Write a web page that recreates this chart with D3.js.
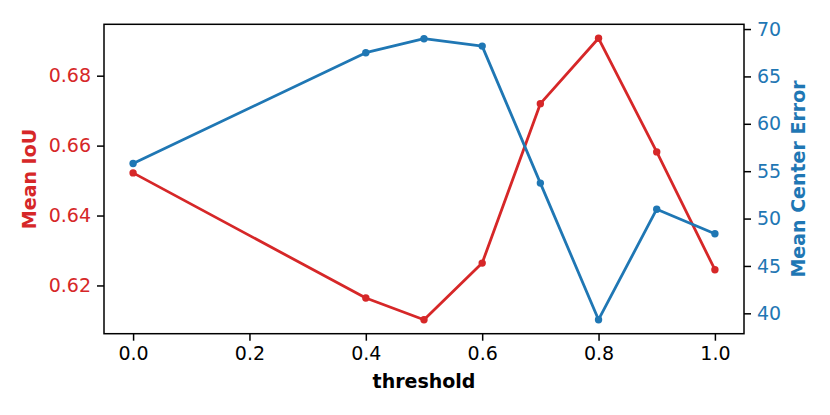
<!DOCTYPE html>
<html>
<head>
<meta charset="utf-8">
<script src="https://cdn.jsdelivr.net/npm/d3@7"></script>
<style>
  html, body { margin: 0; padding: 0; background: #fff; }
  svg text { font-family: "DejaVu Sans", sans-serif; }
</style>
</head>
<body>
<svg id="chart" width="830" height="415"></svg>
<script>
// threshold values and the two measured series
const thresholds = [0.0, 0.4, 0.5, 0.6, 0.7, 0.8, 0.9, 1.0];
const meanIoU = [0.6522, 0.6164, 0.6102, 0.6264, 0.6720, 0.6907, 0.6582, 0.6245];
const meanCenterError = [55.81, 67.5, 68.98, 68.2, 53.74, 39.33, 50.99, 48.39];

const xTicks = [0.0, 0.2, 0.4, 0.6, 0.8, 1.0];
const iouTicks = [0.62, 0.64, 0.66, 0.68];
const errTicks = [40, 45, 50, 55, 60, 65, 70];

const RED = '#d62728';
const BLUE = '#1f77b4';
const FONT = 19;

const m = { left: 104, right: 744, top: 24.3, bottom: 333.7 };
const svg = d3.select('#chart');

const x = d3.scaleLinear().domain([-0.05, 1.05]).range([m.left, m.right]);
const yL = d3.scaleLinear().domain([0.6062, 0.6947]).range([m.bottom, m.top]);
const yR = d3.scaleLinear().domain([37.85, 70.5]).range([m.bottom, m.top]);

function styleAxis(g, color) {
  g.select('.domain').remove();
  g.selectAll('.tick line').attr('stroke', '#000').attr('stroke-width', 1.5);
  g.selectAll('.tick text')
    .attr('fill', color)
    .style('font-size', FONT + 'px')
    .style('font-family', '"DejaVu Sans", sans-serif');
}

// x axis
svg.append('g')
  .attr('transform', `translate(0,${m.bottom})`)
  .call(d3.axisBottom(x).tickValues(xTicks).tickFormat(d3.format('.1f')).tickSize(7).tickPadding(6))
  .call(g => styleAxis(g, '#000'));

// left axis (Mean IoU)
svg.append('g')
  .attr('transform', `translate(${m.left},0)`)
  .call(d3.axisLeft(yL).tickValues(iouTicks).tickFormat(d3.format('.2f')).tickSize(7).tickPadding(6))
  .call(g => styleAxis(g, RED));

// right axis (Mean Center Error)
svg.append('g')
  .attr('transform', `translate(${m.right},0)`)
  .call(d3.axisRight(yR).tickValues(errTicks).tickFormat(d3.format('d')).tickSize(7).tickPadding(6))
  .call(g => styleAxis(g, BLUE));

// frame
svg.append('rect')
  .attr('x', m.left).attr('y', m.top)
  .attr('width', m.right - m.left).attr('height', m.bottom - m.top)
  .attr('fill', 'none').attr('stroke', '#000').attr('stroke-width', 1.5);

function drawSeries(values, y, color) {
  const pts = thresholds.map((t, i) => [t, values[i]]);
  svg.append('path')
    .datum(pts)
    .attr('fill', 'none')
    .attr('stroke', color)
    .attr('stroke-width', 2.8)
    .attr('stroke-linejoin', 'round')
    .attr('d', d3.line().x(d => x(d[0])).y(d => y(d[1])));
  svg.append('g').selectAll('circle')
    .data(pts)
    .join('circle')
    .attr('cx', d => x(d[0]))
    .attr('cy', d => y(d[1]))
    .attr('r', 3.7)
    .attr('fill', color);
}

drawSeries(meanIoU, yL, RED);
drawSeries(meanCenterError, yR, BLUE);

// axis labels
svg.append('text')
  .attr('x', (m.left + m.right) / 2).attr('y', 388)
  .attr('text-anchor', 'middle')
  .style('font-size', FONT + 'px').style('font-weight', 'bold')
  .attr('fill', '#000')
  .text('threshold');

svg.append('text')
  .attr('transform', `translate(36,${(m.top + m.bottom) / 2}) rotate(-90)`)
  .attr('text-anchor', 'middle')
  .style('font-size', FONT + 'px').style('font-weight', 'bold')
  .attr('fill', RED)
  .text('Mean IoU');

svg.append('text')
  .attr('transform', `translate(804.5,${(m.top + m.bottom) / 2}) rotate(-90)`)
  .attr('text-anchor', 'middle')
  .style('font-size', FONT + 'px').style('font-weight', 'bold')
  .attr('fill', BLUE)
  .text('Mean Center Error');
</script>
</body>
</html>
